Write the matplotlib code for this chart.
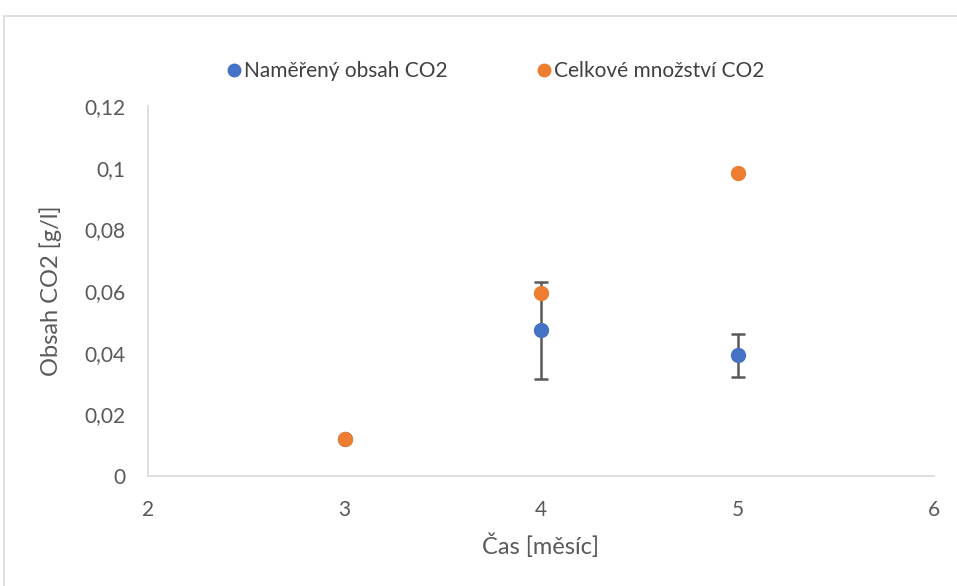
import numpy as np
import matplotlib
matplotlib.use("Agg")
import matplotlib.pyplot as plt
from matplotlib.patches import Rectangle
from matplotlib.lines import Line2D

plt.rcParams['font.family'] = ['Lato', 'DejaVu Sans']

# data
months = [3, 4, 5]
measured = [0.012, 0.0473, 0.0392]
measured_err = [0.0, 0.0157, 0.007]
total = [0.012, 0.0594, 0.0983]

blue = '#4472C4'
orange = '#ED7D31'
grey_txt = '#595959'

fig = plt.figure(figsize=(9.57, 5.86), dpi=100)
ax = fig.add_axes([148/957, 1 - 476/586, (934 - 148)/957, (476 - 106)/586])

# chart border like the source
fig.patches.append(Rectangle((4/957, -0.1), 1.2, 1 - 16/586 + 0.1, transform=fig.transFigure,
                             fill=False, edgecolor='#d9d9d9', linewidth=1.2))

ax.errorbar(months, measured, yerr=measured_err, fmt='o', color=blue, markersize=10,
            ecolor='#595959', elinewidth=1.8, capsize=5, capthick=1.8, zorder=3)
ax.plot(months, total, 'o', color=orange, markersize=10, zorder=4)

ax.set_xlim(2, 6)
ax.set_ylim(0, 0.12)
ax.set_xticks([2, 3, 4, 5, 6])
yt = [0, 0.02, 0.04, 0.06, 0.08, 0.1, 0.12]
ax.set_yticks(yt)
ax.set_yticklabels(['0', '0,02', '0,04', '0,06', '0,08', '0,1', '0,12'])

for s in ['top', 'right']:
    ax.spines[s].set_visible(False)
for s in ['left', 'bottom']:
    ax.spines[s].set_color('#d9d9d9')
    ax.spines[s].set_linewidth(1.2)
ax.tick_params(length=0, labelsize=15, colors=grey_txt)
ax.tick_params(axis='y', pad=16)
ax.tick_params(axis='x', pad=17)

ax.set_xlabel('Čas [měsíc]', fontsize=17, color=grey_txt, labelpad=10)
ax.set_ylabel('Obsah CO2 [g/l]', fontsize=17, color=grey_txt, labelpad=16)

handles = [Line2D([], [], ls='', marker='o', color=blue, markersize=9),
           Line2D([], [], ls='', marker='o', color=orange, markersize=9)]
leg = fig.legend(handles, ['Naměřený obsah CO2', 'Celkové množství CO2'],
                 loc='center', bbox_to_anchor=(0.515, 1 - 71/586), ncol=2, frameon=False,
                 fontsize=15, handletextpad=-0.1, columnspacing=4.0, handlelength=1.2)
for t in leg.get_texts():
    t.set_color('#404040')

fig.savefig('out.png', dpi=100)
